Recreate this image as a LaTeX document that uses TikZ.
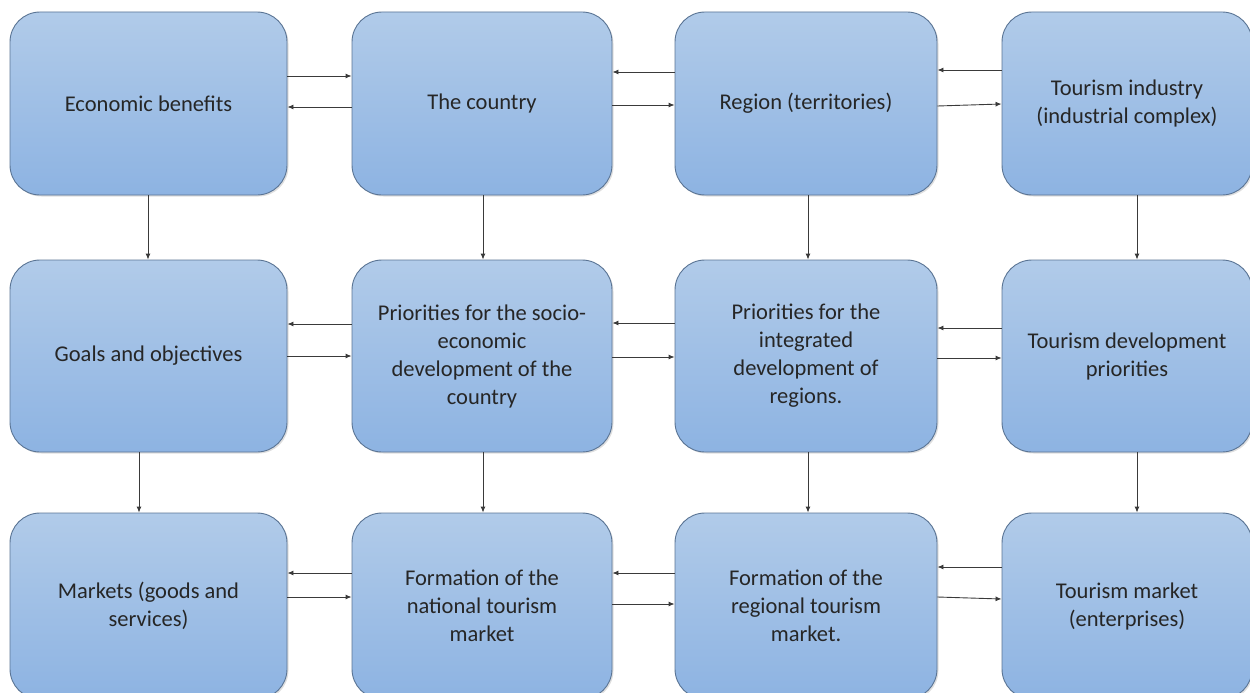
\documentclass[tikz,border=0pt]{standalone}
\usepackage{fontspec}
\setmainfont{Carlito}
\usetikzlibrary{arrows.meta,shadows}
\definecolor{boxtop}{HTML}{B1CBE9}
\definecolor{boxbot}{HTML}{8DB3E2}
\definecolor{boxedge}{HTML}{5A7494}
\definecolor{arrcol}{HTML}{3A3A3A}
\tikzset{
  box/.style={rectangle, rounded corners=30pt, draw=boxedge, line width=0.9pt,
    top color=boxtop, bottom color=boxbot, align=center, text=black!85,
    font=\fontsize{22.5}{28}\selectfont, inner sep=4pt,
    drop shadow={opacity=0.25, shadow xshift=1.5pt, shadow yshift=-1.5pt}},
  arr/.style={draw=arrcol, line width=0.9pt, -{Latex[length=6pt,width=5pt]}}
}
\begin{document}
\begin{tikzpicture}[x=1pt,y=-1pt]
\useasboundingbox (0,0) rectangle (1250,693);
% row 1
\node[box, minimum width=277pt, minimum height=183pt] (b1) at (148.5,103.5) {Economic benefits};
\node[box, minimum width=260pt, minimum height=183pt] (b2) at (482,103.5) {The country};
\node[box, minimum width=262pt, minimum height=183pt] (b3) at (806,103.5) {Region (territories)};
\node[box, minimum width=250pt, minimum height=183pt] (b4) at (1127,103.5) {Tourism industry\\(industrial complex)};
% row 2
\node[box, minimum width=277pt, minimum height=192pt] (b5) at (148.5,356) {Goals and objectives};
\node[box, minimum width=260pt, minimum height=192pt] (b6) at (482,356) {Priorities for the socio-\\economic\\development of the\\country};
\node[box, minimum width=262pt, minimum height=192pt] (b7) at (806,356) {Priorities for the\\integrated\\development of\\regions.};
\node[box, minimum width=250pt, minimum height=192pt] (b8) at (1127,356) {Tourism development\\priorities};
% row 3
\node[box, minimum width=277pt, minimum height=186pt] (b9) at (148.5,606) {Markets (goods and\\services)};
\node[box, minimum width=260pt, minimum height=186pt] (b10) at (482,606) {Formation of the\\national tourism\\market};
\node[box, minimum width=262pt, minimum height=186pt] (b11) at (806,606) {Formation of the\\regional tourism\\market.};
\node[box, minimum width=250pt, minimum height=186pt] (b12) at (1127,606) {Tourism market\\(enterprises)};
% horizontal arrows row 1
\draw[arr] (b1.east |- 0,76) -- (b2.west |- 0,76);
\draw[arr] (b2.west |- 0,107) -- (b1.east |- 0,107);
\draw[arr] (b3.west |- 0,72) -- (b2.east |- 0,72);
\draw[arr] (b2.east |- 0,105) -- (b3.west |- 0,105);
\draw[arr] (b4.west |- 0,70) -- (b3.east |- 0,70);
\draw[arr] (b3.east |- 0,106) -- (b4.west |- 0,104);
% row 2
\draw[arr] (b6.west |- 0,324) -- (b5.east |- 0,324);
\draw[arr] (b5.east |- 0,356) -- (b6.west |- 0,356);
\draw[arr] (b7.west |- 0,323) -- (b6.east |- 0,323);
\draw[arr] (b6.east |- 0,357) -- (b7.west |- 0,357);
\draw[arr] (b8.west |- 0,328) -- (b7.east |- 0,328);
\draw[arr] (b7.east |- 0,358) -- (b8.west |- 0,358);
% row 3
\draw[arr] (b10.west |- 0,573) -- (b9.east |- 0,573);
\draw[arr] (b9.east |- 0,597) -- (b10.west |- 0,597);
\draw[arr] (b11.west |- 0,573) -- (b10.east |- 0,573);
\draw[arr] (b10.east |- 0,604) -- (b11.west |- 0,604);
\draw[arr] (b12.west |- 0,567) -- (b11.east |- 0,567);
\draw[arr] (b11.east |- 0,597) -- (b12.west |- 0,599);
% vertical arrows
\draw[arr] (b1.south -| 148,0) -- (b5.north -| 148,0);
\draw[arr] (b5.south -| 139,0) -- (b9.north -| 139,0);
\draw[arr] (b2.south -| 483,0) -- (b6.north -| 483,0);
\draw[arr] (b6.south -| 483,0) -- (b10.north -| 483,0);
\draw[arr] (b3.south -| 808,0) -- (b7.north -| 808,0);
\draw[arr] (b7.south -| 808,0) -- (b11.north -| 808,0);
\draw[arr] (b4.south -| 1137,0) -- (b8.north -| 1137,0);
\draw[arr] (b8.south -| 1137,0) -- (b12.north -| 1137,0);
\end{tikzpicture}
\end{document}
